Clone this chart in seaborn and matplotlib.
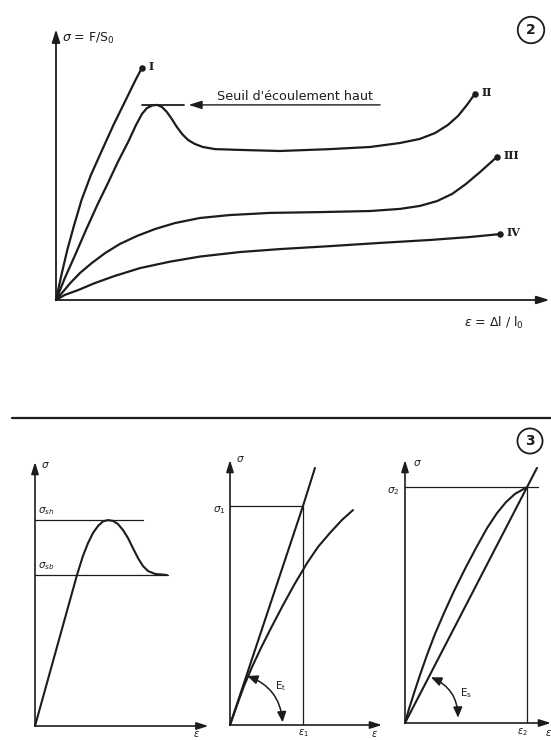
import matplotlib
matplotlib.use("Agg")
import matplotlib.pyplot as plt
import seaborn as sns
from matplotlib.patches import FancyArrowPatch
from matplotlib.lines import Line2D

sns.set_theme(style="white")
plt.rcParams["font.family"] = ["DejaVu Sans"]
plt.rcParams["mathtext.fontset"] = "dejavusans"

INK = "#1c1c1c"

# ---------------- Figure 2: tensile curves of four material types ----------------
# strain / stress in arbitrary units (0-100 on both axes)
curve_I_strain = [0, 1.1, 2.3, 3.7, 5.2, 7.1, 9.4, 11.7, 14.2, 16.2, 17.5]
curve_I_stress = [0, 9.3, 18.7, 28.0, 37.3, 46.6, 56.0, 65.3, 74.6, 82.1, 86.6]

curve_II_strain = [0, 1.8, 3.9, 6.1, 8.4, 10.6, 12.6, 14.7, 16.3, 17.5, 18.5, 19.6,
                   20.6, 21.6, 22.6, 23.6, 24.6, 25.7, 26.9, 28.3, 29.9, 32.4, 37.5,
                   45.6, 55.8, 64.0, 70.1, 74.1, 77.2, 79.8, 81.9, 83.7, 85.3]
curve_II_stress = [0, 8.2, 16.8, 26.1, 35.4, 43.7, 51.5, 59.0, 65.3, 69.4, 71.6, 72.6,
                   72.8, 72.0, 70.1, 67.5, 64.6, 61.9, 59.7, 58.2, 57.1, 56.3, 56.0,
                   55.6, 56.3, 57.1, 58.6, 60.1, 62.3, 65.3, 68.7, 72.8, 76.9]

curve_III_strain = [0, 1.2, 2.9, 4.9, 7.3, 10.0, 13.0, 16.5, 20.2, 24.2, 29.3, 35.4,
                    43.6, 53.8, 64.0, 70.1, 74.1, 77.6, 80.7, 83.5, 86.4, 89.8]
curve_III_stress = [0, 2.6, 6.3, 10.1, 13.8, 17.5, 20.9, 23.9, 26.5, 28.7, 30.6, 31.7,
                    32.5, 32.8, 33.2, 34.0, 35.1, 36.9, 39.6, 43.3, 47.8, 53.4]

curve_IV_strain = [0, 1.8, 4.5, 7.9, 12.0, 17.1, 23.2, 29.3, 37.5, 45.6, 55.8, 66.0,
                   76.2, 84.3, 90.4]
curve_IV_stress = [0, 1.9, 3.7, 6.3, 9.0, 11.9, 14.3, 16.2, 17.9, 19.0, 20.1, 21.3,
                   22.4, 23.5, 24.6]

curve_labels = ["I", "II", "III", "IV"]
yield_note = "Seuil d'écoulement haut"

# ---------------- Figure 3: yield points and moduli ----------------
# (a) upper / lower yield point
yield_strain = [0, 24.7, 28.2, 31.2, 34.1, 37.1, 40.0, 42.9, 45.9, 48.8, 51.8, 54.7,
                57.6, 60.6, 63.5, 66.5, 70.6, 77.6]
yield_stress = [0, 57.2, 64.4, 69.3, 73.1, 75.8, 77.5, 78.0, 77.7, 76.5, 74.2, 71.2,
                67.4, 63.6, 60.6, 58.7, 57.6, 57.2]

# (b) tangent modulus
tangent_curve_strain = [0, 4.6, 9.2, 14.5, 20.4, 27.0, 34.2, 42.1, 50.7, 57.9, 65.8,
                        73.7, 80.9]
tangent_curve_stress = [0, 7.5, 14.7, 21.9, 29.1, 36.6, 44.5, 52.8, 61.1, 67.2, 72.5,
                        77.4, 81.1]
eps1, sig1 = 48.0, 82.6
tangent_line_strain = [0, eps1, 55.9]
tangent_line_stress = [0, sig1, 97.0]

# (c) secant modulus
secant_curve_strain = [0, 2.7, 6.2, 10.3, 15.1, 20.5, 26.7, 33.6, 41.1, 48.6, 56.2,
                       63.0, 69.2, 75.3, 83.6]
secant_curve_stress = [0, 5.3, 11.4, 18.3, 25.9, 33.8, 41.8, 50.2, 58.6, 66.5, 74.1,
                       79.8, 84.0, 87.1, 89.7]
eps2, sig2 = 83.6, 89.7
secant_line_strain = [0, eps2, 90.4]
secant_line_stress = [0, sig2, 97.0]

W, H = 551, 740
fig = plt.figure(figsize=(W / 100, H / 100), dpi=100)
fig.patch.set_facecolor("white")


def panel(x0, y0, x1, y1):
    """Axes whose origin sits at pixel (x0, y0) and whose 100/100 corner is (x1, y1)."""
    ax = fig.add_axes([x0 / W, 1 - y0 / H, (x1 - x0) / W, (y0 - y1) / H])
    ax.set_xlim(0, 100)
    ax.set_ylim(0, 100)
    ax.axis("off")
    ax.patch.set_alpha(0)
    return ax


def axis_arrows(ax, xend, yend, lw=1.3, ms=11):
    style = "-|>,head_length=0.7,head_width=0.22"
    ax.annotate("", xy=(xend, 0), xytext=(0, 0), xycoords="axes fraction",
                arrowprops=dict(arrowstyle=style, lw=lw, color=INK,
                                mutation_scale=ms, shrinkA=0, shrinkB=0))
    ax.annotate("", xy=(0, yend), xytext=(0, 0), xycoords="axes fraction",
                arrowprops=dict(arrowstyle=style, lw=lw, color=INK,
                                mutation_scale=ms, shrinkA=0, shrinkB=0))


def curve(ax, x, y, lw=1.6):
    sns.lineplot(x=x, y=y, ax=ax, color=INK, lw=lw, sort=False,
                 estimator=None, legend=False).lines[-1].set_clip_on(False)
    ax.lines[-1].set_solid_joinstyle("round")


# ---- top panel ----
ax = panel(56, 300, 547, 32)
axis_arrows(ax, 1.005, 1.01)
series = [(curve_I_strain, curve_I_stress), (curve_II_strain, curve_II_stress),
          (curve_III_strain, curve_III_stress), (curve_IV_strain, curve_IV_stress)]
for (xs, ys), lab in zip(series, curve_labels):
    curve(ax, xs, ys)
    sns.scatterplot(x=[xs[-1]], y=[ys[-1]], ax=ax, color=INK, s=22,
                    edgecolor=INK, linewidth=0, legend=False, clip_on=False)
    ax.annotate(lab, xy=(xs[-1], ys[-1]), xytext=(4.5, 1), textcoords="offset points",
                ha="left", va="center", fontsize=8, fontweight="bold",
                family="DejaVu Serif", color=INK)

# upper yield point: short level line at the hump of curve II and the pointer
hump = max(curve_II_stress[:20])
ipk = curve_II_stress.index(hump)
ax.plot([curve_II_strain[ipk] - 3.0, curve_II_strain[ipk] + 5.5], [hump, hump],
        color=INK, lw=1.3)
ax.annotate("", xy=(27.0, hump), xytext=(66.0, hump),
            arrowprops=dict(arrowstyle="-|>,head_length=0.8,head_width=0.25",
                            lw=1.0, color=INK, mutation_scale=10,
                            shrinkA=0, shrinkB=0))
ax.text(32.8, hump + 0.8, yield_note, fontsize=9.2, ha="left", va="bottom",
        color=INK)

ax.text(1.2, 97.5, r"$\sigma$ = F/S$_0$", fontsize=9, ha="left", va="center",
        color=INK)
ax.text(83.0, -8.5, r"$\epsilon$ = $\Delta$l / l$_0$", fontsize=9, ha="left",
        va="center", color=INK)

fig.text(531 / W, 1 - 30 / H, "2", fontsize=10, fontweight="bold", ha="center",
         va="center", color=INK,
         bbox=dict(boxstyle="circle,pad=0.45", fc="white", ec=INK, lw=1.3))

# separator rule
fig.add_artist(Line2D([12 / W, 1.0], [1 - 418 / H] * 2, color=INK, lw=1.6))

fig.text(530 / W, 1 - 441 / H, "3", fontsize=10, fontweight="bold", ha="center",
         va="center", color=INK,
         bbox=dict(boxstyle="circle,pad=0.4", fc="white", ec=INK, lw=1.3))

# ---- bottom left: upper / lower yield ----
ax = panel(35, 726, 205, 462)
axis_arrows(ax, 1.02, 1.0, lw=1.2, ms=10)
sig_sh = max(yield_stress)
sig_sb = yield_stress[-1]
ax.plot([0, 63.5], [sig_sh, sig_sh], color=INK, lw=0.9)
ax.plot([0, 78.2], [sig_sb, sig_sb], color=INK, lw=0.9)
curve(ax, yield_strain, yield_stress, lw=1.5)
ax.text(2.0, sig_sh + 1.0, r"$\sigma_{sh}$", fontsize=7.5, ha="left", va="bottom",
        color=INK)
ax.text(2.0, sig_sb + 1.0, r"$\sigma_{sb}$", fontsize=7.5, ha="left", va="bottom",
        color=INK)
ax.text(3.5, 99.0, r"$\sigma$", fontsize=7.5, ha="left", va="center", color=INK)
ax.text(95.0, -3.2, r"$\epsilon$", fontsize=7, ha="center", va="center", color=INK)

# ---- bottom middle: tangent modulus ----
ax = panel(230, 725, 382, 460)
axis_arrows(ax, 1.0, 1.0, lw=1.2, ms=10)
ax.plot([0, eps1], [sig1, sig1], color=INK, lw=0.9)
ax.plot([eps1, eps1], [0, sig1], color=INK, lw=0.9)
curve(ax, tangent_line_strain, tangent_line_stress, lw=1.5)
curve(ax, tangent_curve_strain, tangent_curve_stress, lw=1.5)
ax.add_patch(FancyArrowPatch((11.3, 18.5), (34.6, 1.0),
                             connectionstyle="arc3,rad=-0.32",
                             arrowstyle="<|-|>,head_length=0.7,head_width=0.3",
                             mutation_scale=9, lw=1.1, color=INK,
                             shrinkA=0, shrinkB=0, clip_on=False))
ax.text(33.0, 14.5, r"E$_{\rm t}$", fontsize=7.5, ha="center", va="center",
        color=INK)
ax.text(4.0, 100.5, r"$\sigma$", fontsize=7.5, ha="left", va="center", color=INK)
ax.text(-3.0, sig1 - 1.5, r"$\sigma_1$", fontsize=7.5, ha="right", va="center",
        color=INK)
ax.text(eps1, -3.2, r"$\epsilon_1$", fontsize=7, ha="center", va="center", color=INK)
ax.text(95.0, -3.4, r"$\epsilon$", fontsize=7, ha="center", va="center", color=INK)

# ---- bottom right: secant modulus ----
ax = panel(405, 723, 551, 460)
axis_arrows(ax, 1.0, 1.0, lw=1.2, ms=10)
ax.plot([0, 91.1], [sig2, sig2], color=INK, lw=0.9)
ax.plot([eps2, eps2], [0, sig2], color=INK, lw=0.9)
curve(ax, secant_line_strain, secant_line_stress, lw=1.5)
curve(ax, secant_curve_strain, secant_curve_stress, lw=1.5)
ax.add_patch(FancyArrowPatch((17.8, 17.4), (36.3, 2.0),
                             connectionstyle="arc3,rad=-0.32",
                             arrowstyle="<|-|>,head_length=0.7,head_width=0.3",
                             mutation_scale=9, lw=1.1, color=INK,
                             shrinkA=0, shrinkB=0, clip_on=False))
ax.text(41.5, 11.5, r"E$_{\rm s}$", fontsize=7.5, ha="center", va="center",
        color=INK)
ax.text(5.5, 99.0, r"$\sigma$", fontsize=7.5, ha="left", va="center", color=INK)
ax.text(-4.0, sig2 - 1.5, r"$\sigma_2$", fontsize=7.5, ha="right", va="center",
        color=INK)
ax.text(eps2 - 3.0, -3.4, r"$\epsilon_2$", fontsize=7, ha="center", va="center",
        color=INK)
ax.text(98.0, -3.8, r"$\epsilon$", fontsize=7, ha="center", va="center", color=INK)

fig.savefig("out.png", dpi=100, facecolor="white")
